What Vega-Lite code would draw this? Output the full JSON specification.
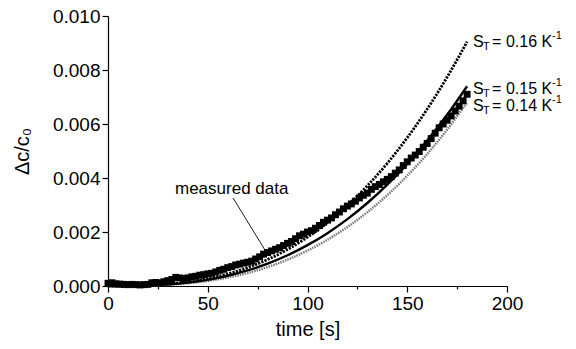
{
  "$schema": "https://vega.github.io/schema/vega-lite/v6.json",
  "autosize": {"type": "none"},
  "width": 399,
  "height": 270,
  "padding": {"left": 108, "top": 16, "right": 69, "bottom": 63},
  "config": {
    "font": "Liberation Sans",
    "view": {"stroke": null},
    "axis": {
      "domainColor": "#000", "tickColor": "#000", "labelColor": "#000", "titleColor": "#000",
      "grid": false, "labelFontSize": 19, "titleFontSize": 20, "titleFontWeight": "normal",
      "labelFont": "Liberation Sans", "titleFont": "Liberation Sans", "domainWidth": 1.2, "tickWidth": 1.2,
      "labelFlush": false, "labelOverlap": false
    }
  },
  "datasets": {
    "measured": [
      {"t":0,"c":0.00010},{"t":2,"c":0.00012},{"t":4,"c":0.00008},{"t":6,"c":0.00007},{"t":8,"c":0.00006},
      {"t":10,"c":0.00005},{"t":12,"c":0.00006},{"t":14,"c":0.00005},{"t":16,"c":0.00004},{"t":18,"c":0.00005},
      {"t":20,"c":0.00006},{"t":22,"c":0.00012},{"t":24,"c":0.00013},{"t":26,"c":0.00011},{"t":28,"c":0.00016},
      {"t":30,"c":0.00020},{"t":32,"c":0.00024},{"t":34,"c":0.00032},{"t":36,"c":0.00030},{"t":38,"c":0.00027},
      {"t":40,"c":0.00030},{"t":42,"c":0.00034},{"t":44,"c":0.00036},{"t":46,"c":0.00040},{"t":48,"c":0.00042},
      {"t":50,"c":0.00045},{"t":52,"c":0.00047},{"t":54,"c":0.00052},{"t":56,"c":0.00058},{"t":58,"c":0.00062},
      {"t":60,"c":0.00068},{"t":62,"c":0.00072},{"t":64,"c":0.00078},{"t":66,"c":0.00081},{"t":68,"c":0.00085},
      {"t":70,"c":0.00088},{"t":72,"c":0.00092},{"t":74,"c":0.00100},{"t":76,"c":0.00108},{"t":78,"c":0.00118},
      {"t":80,"c":0.00124},{"t":82,"c":0.00130},{"t":84,"c":0.00136},{"t":86,"c":0.00142},{"t":88,"c":0.00150},
      {"t":90,"c":0.00158},{"t":92,"c":0.00165},{"t":94,"c":0.00175},{"t":96,"c":0.00186},{"t":98,"c":0.00192},
      {"t":100,"c":0.00200},{"t":102,"c":0.00205},{"t":104,"c":0.00214},{"t":106,"c":0.00224},{"t":108,"c":0.00236},
      {"t":110,"c":0.00244},{"t":112,"c":0.00252},{"t":114,"c":0.00264},{"t":116,"c":0.00274},{"t":118,"c":0.00286},
      {"t":120,"c":0.00296},{"t":122,"c":0.00304},{"t":124,"c":0.00314},{"t":126,"c":0.00326},{"t":128,"c":0.00336},
      {"t":130,"c":0.00344},{"t":132,"c":0.00358},{"t":134,"c":0.00368},{"t":136,"c":0.00376},{"t":138,"c":0.00386},
      {"t":140,"c":0.00395},{"t":142,"c":0.00405},{"t":144,"c":0.00418},{"t":146,"c":0.00430},{"t":148,"c":0.00446},
      {"t":150,"c":0.00460},{"t":152,"c":0.00474},{"t":154,"c":0.00485},{"t":156,"c":0.00498},{"t":158,"c":0.00514},
      {"t":160,"c":0.00528},{"t":162,"c":0.00546},{"t":164,"c":0.00566},{"t":166,"c":0.00586},{"t":168,"c":0.00600},
      {"t":170,"c":0.00614},{"t":172,"c":0.00630},{"t":174,"c":0.00648},{"t":176,"c":0.00666},{"t":178,"c":0.00686},
      {"t":180,"c":0.00710}
    ],
    "curves": [
      {"s":"0.16","t":0,"c":0},{"s":"0.16","t":10,"c":0.0000033},{"s":"0.16","t":20,"c":0.000022},{"s":"0.16","t":30,"c":0.000067},
      {"s":"0.16","t":40,"c":0.000147},{"s":"0.16","t":50,"c":0.000271},{"s":"0.16","t":60,"c":0.000446},{"s":"0.16","t":70,"c":0.000680},
      {"s":"0.16","t":80,"c":0.000981},{"s":"0.16","t":90,"c":0.001355},{"s":"0.16","t":100,"c":0.001808},{"s":"0.16","t":110,"c":0.002347},
      {"s":"0.16","t":120,"c":0.002979},{"s":"0.16","t":130,"c":0.003711},{"s":"0.16","t":140,"c":0.004546},{"s":"0.16","t":150,"c":0.005492},
      {"s":"0.16","t":160,"c":0.006553},{"s":"0.16","t":170,"c":0.007738},{"s":"0.16","t":180,"c":0.009050},
      {"s":"0.15","t":0,"c":0},{"s":"0.15","t":10,"c":0.000003},{"s":"0.15","t":20,"c":0.0000196},{"s":"0.15","t":30,"c":0.000059},
      {"s":"0.15","t":40,"c":0.000127},{"s":"0.15","t":50,"c":0.000233},{"s":"0.15","t":60,"c":0.000381},{"s":"0.15","t":70,"c":0.000578},
      {"s":"0.15","t":80,"c":0.000829},{"s":"0.15","t":90,"c":0.001139},{"s":"0.15","t":100,"c":0.001513},{"s":"0.15","t":110,"c":0.001957},
      {"s":"0.15","t":120,"c":0.002476},{"s":"0.15","t":130,"c":0.003074},{"s":"0.15","t":140,"c":0.003755},{"s":"0.15","t":150,"c":0.004524},
      {"s":"0.15","t":160,"c":0.005384},{"s":"0.15","t":170,"c":0.006341},{"s":"0.15","t":180,"c":0.007400},
      {"s":"0.14","t":0,"c":0},{"s":"0.14","t":10,"c":0.0000021},{"s":"0.14","t":20,"c":0.0000145},{"s":"0.14","t":30,"c":0.000045},
      {"s":"0.14","t":40,"c":0.000101},{"s":"0.14","t":50,"c":0.000188},{"s":"0.14","t":60,"c":0.000314},{"s":"0.14","t":70,"c":0.000483},
      {"s":"0.14","t":80,"c":0.000702},{"s":"0.14","t":90,"c":0.000976},{"s":"0.14","t":100,"c":0.001312},{"s":"0.14","t":110,"c":0.001712},
      {"s":"0.14","t":120,"c":0.002185},{"s":"0.14","t":130,"c":0.002734},{"s":"0.14","t":140,"c":0.003365},{"s":"0.14","t":150,"c":0.004082},
      {"s":"0.14","t":160,"c":0.004890},{"s":"0.14","t":170,"c":0.005794},{"s":"0.14","t":180,"c":0.006800}
    ],
    "labels": [
      {"t":180,"c":0.00905,"main":"= 0.16 K"},
      {"t":180,"c":0.00730,"main":"= 0.15 K"},
      {"t":180,"c":0.00667,"main":"= 0.14 K"}
    ],
    "annot": [
      {"t":62,"c":0.00359,"t1":62.7,"c1":0.00326,"t2":78.7,"c2":0.00133,"label":"measured data"}
    ]
  },
  "layer": [
    {
      "data": {"name": "curves"},
      "transform": [{"filter": "datum.s === '0.14'"}],
      "mark": {"type": "line", "color": "#7a7a7a", "strokeWidth": 2.5, "strokeDash": [1.5, 1], "interpolate": "monotone"},
      "encoding": {
        "x": {"field": "t", "type": "quantitative", "scale": {"domain": [0, 200], "nice": false},
          "axis": {"title": "time [s]", "values": [0,25,50,75,100,125,150,175,200],
            "labelExpr": "datum.value % 50 === 0 ? datum.label : ''",
            "tickSize": {"condition": {"test": "datum.value % 50 !== 0", "value": 3}, "value": 6},
            "labelPadding": 2, "titlePadding": 6}},
        "y": {"field": "c", "type": "quantitative", "scale": {"domain": [0, 0.01], "nice": false},
          "axis": {"title": "Δc/c₀", "format": ".3f", "values": [0,0.001,0.002,0.003,0.004,0.005,0.006,0.007,0.008,0.009,0.01],
            "labelExpr": "round(datum.value*1000) % 2 === 0 ? datum.label : ''",
            "tickSize": {"condition": {"test": "round(datum.value*1000) % 2 !== 0", "value": 3}, "value": 6},
            "labelPadding": 2, "titlePadding": 20}}
      }
    },
    {
      "data": {"name": "curves"},
      "transform": [{"filter": "datum.s === '0.15'"}],
      "mark": {"type": "line", "color": "#000", "strokeWidth": 2.4, "interpolate": "monotone"},
      "encoding": {
        "x": {"field": "t", "type": "quantitative"},
        "y": {"field": "c", "type": "quantitative"}
      }
    },
    {
      "data": {"name": "measured"},
      "mark": {"type": "point", "shape": "square", "filled": true, "color": "#000", "size": 48, "opacity": 1},
      "encoding": {
        "x": {"field": "t", "type": "quantitative"},
        "y": {"field": "c", "type": "quantitative"}
      }
    },
    {
      "data": {"name": "curves"},
      "transform": [{"filter": "datum.s === '0.16'"}],
      "mark": {"type": "line", "color": "#000", "strokeWidth": 2.8, "strokeDash": [2.2, 1.2], "interpolate": "monotone"},
      "encoding": {
        "x": {"field": "t", "type": "quantitative"},
        "y": {"field": "c", "type": "quantitative"}
      }
    },
    {
      "data": {"name": "annot"},
      "mark": {"type": "rule", "color": "#000", "strokeWidth": 0.9},
      "encoding": {
        "x": {"field": "t1", "type": "quantitative"},
        "y": {"field": "c1", "type": "quantitative"},
        "x2": {"field": "t2"},
        "y2": {"field": "c2"}
      }
    },
    {
      "data": {"name": "annot"},
      "mark": {"type": "text", "fontSize": 17, "align": "center", "baseline": "middle", "color": "#000"},
      "encoding": {
        "x": {"field": "t", "type": "quantitative"},
        "y": {"field": "c", "type": "quantitative"},
        "text": {"field": "label"}
      }
    },
    {
      "data": {"name": "labels"},
      "mark": {"type": "text", "text": "S", "fontSize": 16, "align": "left", "baseline": "middle", "dx": 6, "color": "#000"},
      "encoding": {
        "x": {"field": "t", "type": "quantitative"},
        "y": {"field": "c", "type": "quantitative"}
      }
    },
    {
      "data": {"name": "labels"},
      "mark": {"type": "text", "text": "T", "fontSize": 11, "align": "left", "baseline": "middle", "dx": 16, "dy": 5, "color": "#000"},
      "encoding": {
        "x": {"field": "t", "type": "quantitative"},
        "y": {"field": "c", "type": "quantitative"}
      }
    },
    {
      "data": {"name": "labels"},
      "mark": {"type": "text", "fontSize": 16, "align": "left", "baseline": "middle", "dx": 25, "color": "#000"},
      "encoding": {
        "x": {"field": "t", "type": "quantitative"},
        "y": {"field": "c", "type": "quantitative"},
        "text": {"field": "main"}
      }
    },
    {
      "data": {"name": "labels"},
      "mark": {"type": "text", "text": "-1", "fontSize": 11, "align": "left", "baseline": "middle", "dx": 85, "dy": -6, "color": "#000"},
      "encoding": {
        "x": {"field": "t", "type": "quantitative"},
        "y": {"field": "c", "type": "quantitative"}
      }
    }
  ]
}
